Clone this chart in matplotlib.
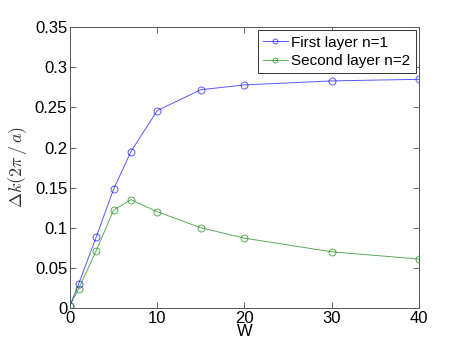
import matplotlib

matplotlib.use("Agg")
import matplotlib.pyplot as plt

W = [0, 1, 3, 5, 7, 10, 15, 20, 30, 40]
first_layer = [0.003, 0.030, 0.088, 0.148, 0.195, 0.246, 0.272, 0.278, 0.283, 0.285]
second_layer = [0.003, 0.024, 0.071, 0.122, 0.135, 0.120, 0.100, 0.087, 0.070, 0.061]

plt.rcParams.update({
    "font.family": ["Liberation Sans", "DejaVu Sans"],
    "mathtext.fontset": "cm",
    "font.size": 12,
})

fig = plt.figure(figsize=(4.63, 3.48), dpi=100)
ax = fig.add_axes([0.151, 0.115, 0.754, 0.807])

ax.plot(W, first_layer, color="#0000ff", lw=0.7, marker="o", ms=5,
        mfc="none", mew=0.7, alpha=0.65, label="First layer n=1")
ax.plot(W, second_layer, color="#008000", lw=0.7, marker="o", ms=5,
        mfc="none", mew=0.7, alpha=0.65, label="Second layer n=2")

ax.set_xlim(0, 40)
ax.set_ylim(0, 0.35)
ax.set_xticks([0, 10, 20, 30, 40])
ax.set_yticks([0, 0.05, 0.1, 0.15, 0.2, 0.25, 0.3, 0.35])
ax.set_yticklabels(["0", "0.05", "0.1", "0.15", "0.2", "0.25", "0.3", "0.35"])
ax.tick_params(direction="in", top=True, right=True, length=4, width=0.6,
               color="#555555", pad=2)
for s in ax.spines.values():
    s.set_color("#555555")
    s.set_linewidth(0.7)

ax.set_xlabel("W", labelpad=-1)
ax.set_ylabel(r"$\Delta k(2\pi\,/\,a)$", fontsize=13, color="#333333", labelpad=4)

leg = ax.legend(loc="upper right", fancybox=False, framealpha=1,
                edgecolor="#333333", handlelength=1.6, handletextpad=0.25,
                borderpad=0.35, labelspacing=0.3, borderaxespad=0.2,
                markerscale=0.7, fontsize=11)
leg.get_frame().set_linewidth(0.7)

fig.savefig("out.png", dpi=100)
